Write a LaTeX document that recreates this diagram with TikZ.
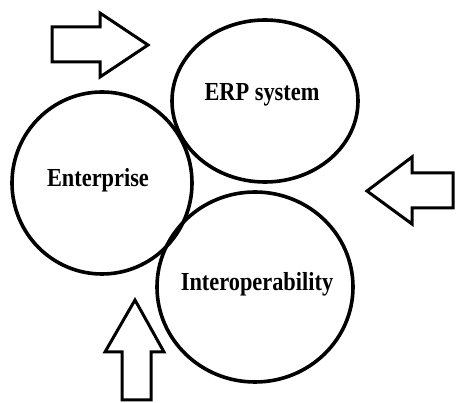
\documentclass[tikz,border=0pt]{standalone}
\usepackage{fontspec}
\setmainfont{Liberation Serif}
\usetikzlibrary{shapes.geometric}

\begin{document}
\begin{tikzpicture}[
        x=1pt, y=-1pt,
        part/.style={ellipse, draw, line width=3.6pt, inner sep=0pt},
        partname/.style={anchor=base, inner sep=0pt, font=\fontsize{26}{30}\selectfont\bfseries},
        blockarrow/.style={draw, line width=3pt, line join=miter, fill=white}
    ]
        \useasboundingbox (0,0) rectangle (456,403);

        % The three parts
        \node[part, minimum width=186pt, minimum height=162pt] (erp) at (265,101) {};
        \node[part, minimum width=180pt, minimum height=182pt] (ent) at (102,183) {};
        \node[part, minimum width=196pt, minimum height=190pt] (iop) at (255,287) {};

        % Their names
        \node[partname] (erpname) at (262,101) {\scalebox{0.86}[1]{ERP system}};
        \node[partname] (entname) at (98,187) {\scalebox{0.86}[1]{Enterprise}};
        \node[partname] (iopname) at (257,291) {\scalebox{0.86}[1]{Interoperability}};

        % Block arrows pointing inwards
        \draw[blockarrow] (52,27) -- (100,27) -- (100,13) -- (148,45) -- (100,77) -- (100,62) -- (52,62) -- cycle;
        \draw[blockarrow] (453,173) -- (412,173) -- (412,157) -- (367,191) -- (412,224) -- (412,208) -- (453,208) -- cycle;
        \draw[blockarrow] (122,400) -- (122,352) -- (105,352) -- (135,300) -- (164,352) -- (151,352) -- (151,400) -- cycle;

    \end{tikzpicture}
\end{document}
